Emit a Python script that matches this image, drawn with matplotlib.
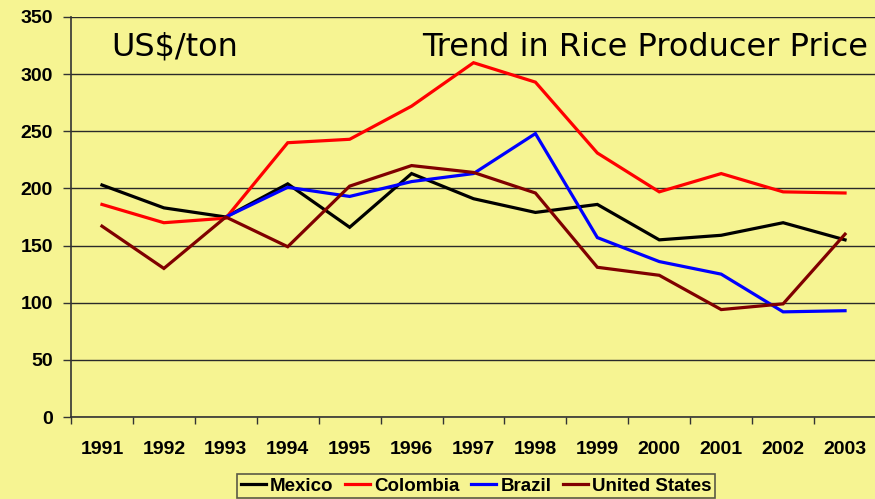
import matplotlib
matplotlib.use("Agg")
import matplotlib.pyplot as plt
from matplotlib.ticker import FixedLocator
import numpy as np

years = ["1991", "1992", "1993", "1994", "1995", "1996", "1997",
         "1998", "1999", "2000", "2001", "2002", "2003"]
mexico = [203, 183, 175, 204, 166, 213, 191, 179, 186, 155, 159, 170, 155]
colombia = [186, 170, 174, 240, 243, 272, 310, 293, 231, 197, 213, 197, 196]
brazil = [None, None, 175, 201, 193, 206, 213, 248, 157, 136, 125, 92, 93]
united_states = [167, 130, 175, 149, 202, 220, 214, 196, 131, 124, 94, 99, 160]

series = [("Mexico", mexico, "#000000"),
          ("Colombia", colombia, "#FF0000"),
          ("Brazil", brazil, "#0000FF"),
          ("United States", united_states, "#800000")]

bg = "#F6F492"
W, H = 875, 499
fig = plt.figure(figsize=(W / 100, H / 100), dpi=100, facecolor=bg)
ax = fig.add_axes([71 / W, 82 / H, (876 - 71) / W, 400 / H])
ax.set_facecolor(bg)

x = np.arange(len(years))
for name, vals, col in series:
    v = np.array([np.nan if a is None else a for a in vals], dtype=float)
    ax.plot(x, v, color=col, lw=2.3, label=name, solid_joinstyle="miter")

ax.set_xlim(-0.5, len(years) - 0.5)
ax.set_ylim(0, 350)
ax.set_yticks(np.arange(0, 351, 50))
ax.yaxis.grid(True, color="#2a2a2a", lw=1.0)
ax.set_axisbelow(True)
ax.set_xticks(x)
ax.set_xticklabels(years)
ax.xaxis.set_minor_locator(FixedLocator(np.arange(-0.5, len(years), 1.0)))
ax.tick_params(axis="x", which="major", length=0, pad=17)
ax.tick_params(axis="x", which="minor", length=5, width=1.0, color="#333333")
ax.tick_params(axis="y", length=6, width=1.0, color="#333333", pad=7)
for lab in ax.get_xticklabels() + ax.get_yticklabels():
    lab.set_fontfamily("Liberation Sans")
    lab.set_fontweight("bold")
    lab.set_fontsize(14)
for s in ["top", "right"]:
    ax.spines[s].set_visible(False)
for s in ["left", "bottom"]:
    ax.spines[s].set_color("#333333")
    ax.spines[s].set_linewidth(1.2)

tfont = dict(family="DejaVu Sans", fontsize=23, color="black")
fig.text(111 / W, 1 - 56 / H, "US$/ton", ha="left", va="baseline", **tfont)
fig.text(422 / W, 1 - 56 / H, "Trend in Rice Producer Price", ha="left", va="baseline", **tfont)

leg = fig.legend(loc="center", bbox_to_anchor=(476 / W, 1 - 486 / H), ncol=4,
                 frameon=True, fancybox=False, handlelength=1.35, handletextpad=0.22,
                 columnspacing=0.6, borderpad=0.2, borderaxespad=0,
                 prop=dict(family="Liberation Sans", weight="bold", size=13.5))
leg.get_frame().set_edgecolor("#333333")
leg.get_frame().set_facecolor(bg)
leg.get_frame().set_linewidth(1.2)

fig.savefig("out.png", dpi=100, facecolor=bg)
